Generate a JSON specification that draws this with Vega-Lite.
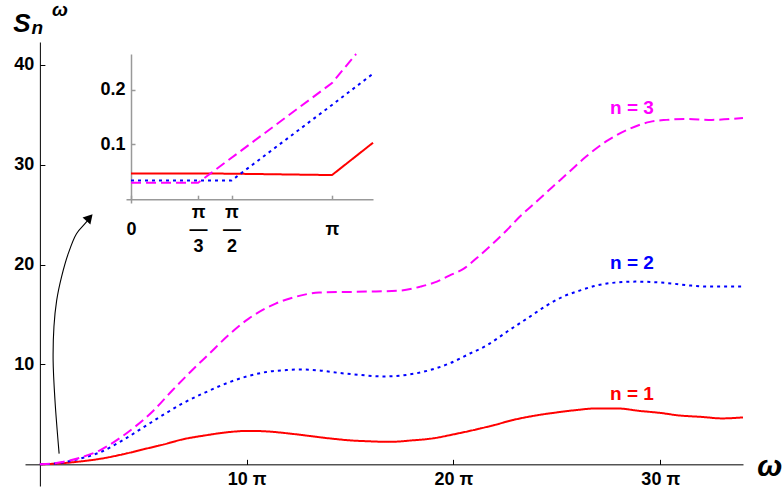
{
  "$schema": "https://vega.github.io/schema/vega-lite/v6.json",
  "width": 718,
  "height": 444,
  "autosize": "none",
  "padding": {"left": 25, "top": 42, "right": 41, "bottom": 9},
  "background": "white",
  "config": {
    "view": {"stroke": null},
    "font": "Liberation Sans",
    "axis": {"labelFont": "Liberation Sans", "labelFontWeight": "bold", "labelFontSize": 18, "labelColor": "black", "grid": false, "title": null, "labelOverlap": false, "labelFlush": false}
  },
  "datasets": {
    "curves": [
      {"n": "1", "x": 0, "y": 0}, {"n": "1", "x": 1, "y": 0.1}, {"n": "1", "x": 2, "y": 0.3}, {"n": "1", "x": 2.9, "y": 0.55},
      {"n": "1", "x": 4, "y": 1.0}, {"n": "1", "x": 5, "y": 1.5}, {"n": "1", "x": 6, "y": 2.0}, {"n": "1", "x": 6.9, "y": 2.5},
      {"n": "1", "x": 8, "y": 2.9}, {"n": "1", "x": 9, "y": 3.2}, {"n": "1", "x": 10.1, "y": 3.35}, {"n": "1", "x": 10.95, "y": 3.3},
      {"n": "1", "x": 12, "y": 3.1}, {"n": "1", "x": 13, "y": 2.85}, {"n": "1", "x": 14, "y": 2.6}, {"n": "1", "x": 15, "y": 2.4},
      {"n": "1", "x": 16, "y": 2.3}, {"n": "1", "x": 16.9, "y": 2.25}, {"n": "1", "x": 18, "y": 2.4}, {"n": "1", "x": 19, "y": 2.6},
      {"n": "1", "x": 20, "y": 3.0}, {"n": "1", "x": 20.9, "y": 3.4}, {"n": "1", "x": 22, "y": 3.95}, {"n": "1", "x": 22.9, "y": 4.45},
      {"n": "1", "x": 24, "y": 4.9}, {"n": "1", "x": 25, "y": 5.2}, {"n": "1", "x": 26, "y": 5.45}, {"n": "1", "x": 26.9, "y": 5.6},
      {"n": "1", "x": 27.9, "y": 5.6}, {"n": "1", "x": 29, "y": 5.35}, {"n": "1", "x": 30, "y": 5.15}, {"n": "1", "x": 30.9, "y": 4.9},
      {"n": "1", "x": 32, "y": 4.75}, {"n": "1", "x": 33, "y": 4.6}, {"n": "1", "x": 34, "y": 4.7},
      {"n": "2", "x": 0, "y": 0}, {"n": "2", "x": 1, "y": 0.15}, {"n": "2", "x": 2, "y": 0.6}, {"n": "2", "x": 2.9, "y": 1.2},
      {"n": "2", "x": 4, "y": 2.4}, {"n": "2", "x": 5, "y": 3.7}, {"n": "2", "x": 6, "y": 5.0}, {"n": "2", "x": 6.9, "y": 6.1},
      {"n": "2", "x": 8, "y": 7.2}, {"n": "2", "x": 9, "y": 8.1}, {"n": "2", "x": 10, "y": 8.8}, {"n": "2", "x": 10.95, "y": 9.25},
      {"n": "2", "x": 12, "y": 9.45}, {"n": "2", "x": 12.6, "y": 9.5}, {"n": "2", "x": 13.5, "y": 9.4}, {"n": "2", "x": 14.5, "y": 9.15},
      {"n": "2", "x": 15.5, "y": 8.95}, {"n": "2", "x": 16.6, "y": 8.8}, {"n": "2", "x": 17.5, "y": 8.9}, {"n": "2", "x": 18.5, "y": 9.25},
      {"n": "2", "x": 19.8, "y": 10.1}, {"n": "2", "x": 20.8, "y": 11.1}, {"n": "2", "x": 21.6, "y": 11.9}, {"n": "2", "x": 22.6, "y": 13.3},
      {"n": "2", "x": 23.7, "y": 14.8}, {"n": "2", "x": 24.5, "y": 15.9}, {"n": "2", "x": 25.3, "y": 16.8}, {"n": "2", "x": 26.1, "y": 17.4},
      {"n": "2", "x": 26.9, "y": 17.9}, {"n": "2", "x": 27.8, "y": 18.2}, {"n": "2", "x": 28.8, "y": 18.3}, {"n": "2", "x": 29.7, "y": 18.25},
      {"n": "2", "x": 30.6, "y": 18.1}, {"n": "2", "x": 31.5, "y": 17.9}, {"n": "2", "x": 32.4, "y": 17.8}, {"n": "2", "x": 34, "y": 17.8},
      {"n": "3", "x": 0, "y": 0}, {"n": "3", "x": 1, "y": 0.2}, {"n": "3", "x": 2, "y": 0.7}, {"n": "3", "x": 2.9, "y": 1.4},
      {"n": "3", "x": 3.7, "y": 2.4}, {"n": "3", "x": 4.5, "y": 3.6}, {"n": "3", "x": 5.5, "y": 5.4}, {"n": "3", "x": 6.4, "y": 7.4},
      {"n": "3", "x": 7.3, "y": 9.3}, {"n": "3", "x": 8.2, "y": 11.1}, {"n": "3", "x": 9.1, "y": 12.9}, {"n": "3", "x": 10.1, "y": 14.6},
      {"n": "3", "x": 11.4, "y": 16.1}, {"n": "3", "x": 12.4, "y": 16.8}, {"n": "3", "x": 13.5, "y": 17.2}, {"n": "3", "x": 15.8, "y": 17.3},
      {"n": "3", "x": 17.4, "y": 17.4}, {"n": "3", "x": 18.4, "y": 17.8}, {"n": "3", "x": 19.2, "y": 18.3}, {"n": "3", "x": 19.8, "y": 18.9},
      {"n": "3", "x": 20.5, "y": 19.6}, {"n": "3", "x": 21.2, "y": 20.8}, {"n": "3", "x": 21.9, "y": 22.1}, {"n": "3", "x": 22.6, "y": 23.5},
      {"n": "3", "x": 23.2, "y": 24.8}, {"n": "3", "x": 24.0, "y": 26.3}, {"n": "3", "x": 24.8, "y": 27.8}, {"n": "3", "x": 25.6, "y": 29.3},
      {"n": "3", "x": 26.4, "y": 30.8}, {"n": "3", "x": 27.5, "y": 32.5}, {"n": "3", "x": 28.5, "y": 33.6}, {"n": "3", "x": 29.5, "y": 34.3},
      {"n": "3", "x": 30.3, "y": 34.5}, {"n": "3", "x": 31.2, "y": 34.6}, {"n": "3", "x": 32.5, "y": 34.5}, {"n": "3", "x": 34, "y": 34.7}
    ],
    "inset": [
      {"n": "1", "x": 0, "y": 0.047}, {"n": "1", "x": 0.3333333333333333, "y": 0.047}, {"n": "1", "x": 0.5, "y": 0.0465}, {"n": "1", "x": 1, "y": 0.044}, {"n": "1", "x": 1.204, "y": 0.103},
      {"n": "2", "x": 0, "y": 0.034}, {"n": "2", "x": 0.3333333333333333, "y": 0.034}, {"n": "2", "x": 0.5, "y": 0.034}, {"n": "2", "x": 1, "y": 0.172}, {"n": "2", "x": 1.204, "y": 0.229},
      {"n": "3", "x": 0, "y": 0.03}, {"n": "3", "x": 0.3333333333333333, "y": 0.03}, {"n": "3", "x": 1, "y": 0.212}, {"n": "3", "x": 1.12, "y": 0.265}
    ],
    "arrow": [
      {"i": 0, "x": 0.93, "y": 1.07}, {"i": 1, "x": 0.73, "y": 6.4}, {"i": 2, "x": 0.64, "y": 10.4}, {"i": 3, "x": 0.68, "y": 13.8},
      {"i": 4, "x": 0.81, "y": 16.4}, {"i": 5, "x": 1.05, "y": 18.8}, {"i": 6, "x": 1.37, "y": 21.1}, {"i": 7, "x": 1.77, "y": 23.1},
      {"i": 8, "x": 2.18, "y": 24.1}, {"i": 9, "x": 2.35, "y": 24.5}
    ]
  },
  "resolve": {"scale": {"x": "independent", "y": "independent"}},
  "layer": [
    {
      "encoding": {
        "x": {"field": "x", "type": "quantitative", "scale": {"domain": [-0.72, 34.0], "nice": false, "zero": false},
          "axis": {"values": [10, 20, 30], "labelExpr": "datum.value + ' π'", "offset": -21.67, "domainColor": "black", "tickColor": "black", "tickSize": -5, "labelPadding": 11, "orient": "bottom"}},
        "y": {"field": "y", "type": "quantitative", "scale": {"domain": [-2.17, 42.3], "nice": false, "zero": false},
          "axis": {"values": [10, 20, 30, 40], "offset": -14.89, "domainColor": "black", "tickColor": "black", "tickSize": -5, "labelPadding": 11, "orient": "left"}}
      },
      "layer": [
        {
          "data": {"name": "curves"},
          "mark": {"type": "line", "strokeWidth": 2, "interpolate": "monotone"},
          "encoding": {
            "color": {"field": "n", "type": "nominal", "scale": {"domain": ["1", "2", "3"], "range": ["#ff0000", "#0000ff", "#ff00ff"]}, "legend": null},
            "strokeDash": {"field": "n", "type": "nominal", "scale": {"domain": ["1", "2", "3"], "range": [[1, 0], [3, 4], [10, 5]]}, "legend": null}
          }
        },
        {
          "data": {"values": [
            {"n": "1", "x": 28.63, "y": 7.06, "label": "n = 1"},
            {"n": "2", "x": 28.63, "y": 20.17, "label": "n = 2"},
            {"n": "3", "x": 28.63, "y": 35.7, "label": "n = 3"}
          ]},
          "mark": {"type": "text", "fontSize": 19, "fontWeight": "bold", "baseline": "middle", "align": "center"},
          "encoding": {
            "text": {"field": "label"},
            "color": {"field": "n", "type": "nominal", "legend": null}
          }
        },
        {
          "data": {"name": "arrow"},
          "mark": {"type": "line", "color": "black", "strokeWidth": 1.1, "interpolate": "catmull-rom"},
          "encoding": {"order": {"field": "i", "type": "quantitative"}}
        },
        {
          "data": {"values": [{"x": 2.4, "y": 24.7}]},
          "mark": {"type": "point", "shape": "triangle-up", "filled": true, "color": "black", "opacity": 1, "size": 110, "angle": 42}
        },
        {
          "data": {"values": [{"x": -0.87, "y": 44.1, "t": "S"}]},
          "mark": {"type": "text", "fontSize": 26, "fontWeight": "bold", "fontStyle": "italic", "baseline": "middle", "align": "center", "color": "black"},
          "encoding": {"text": {"field": "t"}}
        },
        {
          "data": {"values": [{"x": -0.12, "y": 43.67, "t": "n"}, {"x": 0.97, "y": 45.5, "t": "ω"}]},
          "mark": {"type": "text", "fontSize": 19, "fontWeight": "bold", "fontStyle": "italic", "baseline": "middle", "align": "center", "color": "black"},
          "encoding": {"text": {"field": "t"}}
        },
        {
          "data": {"values": [{"x": 35.3, "y": -0.22, "t": "ω"}]},
          "mark": {"type": "text", "fontSize": 30, "fontWeight": "bold", "fontStyle": "italic", "baseline": "middle", "align": "center", "color": "black"},
          "encoding": {"text": {"field": "t"}}
        }
      ]
    },
    {
      "data": {"name": "inset"},
      "encoding": {
        "x": {"field": "x", "type": "quantitative", "scale": {"domain": [-0.025, 1.204], "range": [101, 348], "nice": false, "zero": false},
          "axis": {"values": [0, 0.3333333333333333, 0.5, 1], "labelExpr": "datum.value == 0 ? [' ', '0'] : datum.value == 1 ? [' ', 'π'] : datum.value < 0.4 ? ['π', '—', '3'] : ['π', '—', '2']", "labelLineHeight": 17, "offset": -286.8, "orient": "bottom", "domainColor": "#999999", "domainWidth": 1.5, "tickColor": "#999999", "tickWidth": 1.5, "tickSize": -4, "labelPadding": 8}},
        "y": {"field": "y", "type": "quantitative", "scale": {"domain": [-0.007, 0.265], "range": [161, 12], "nice": false, "zero": false},
          "axis": {"values": [0.1, 0.2], "format": ".1f", "offset": -106, "orient": "left", "domainColor": "#999999", "domainWidth": 1.5, "tickColor": "#999999", "tickWidth": 1.5, "tickSize": -4, "labelPadding": 10}}
      },
      "layer": [
        {
          "mark": {"type": "line", "strokeWidth": 2},
          "encoding": {
            "color": {"field": "n", "type": "nominal", "legend": null},
            "strokeDash": {"field": "n", "type": "nominal", "legend": null}
          }
        }
      ]
    }
  ]
}
